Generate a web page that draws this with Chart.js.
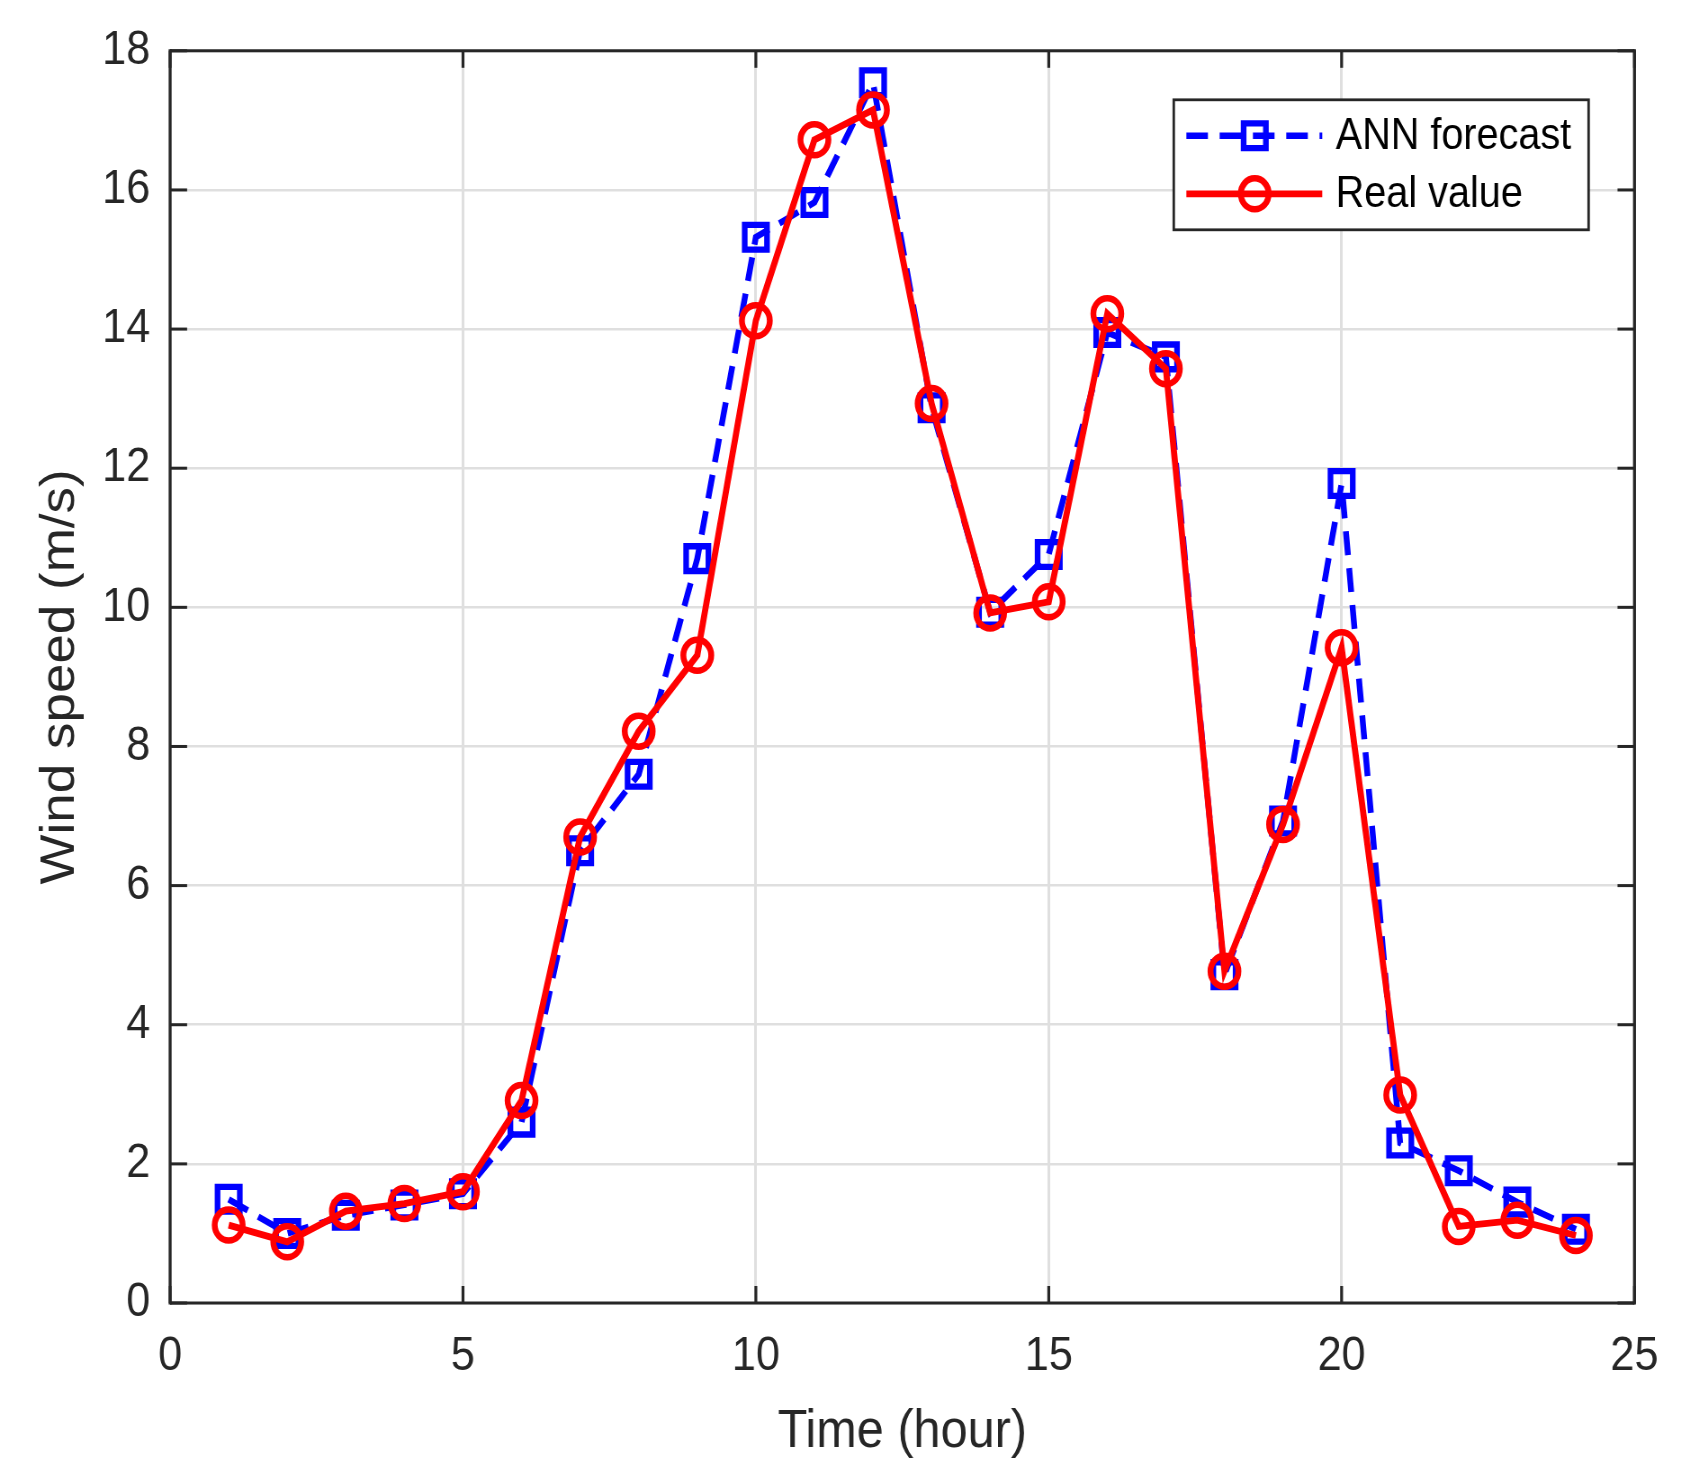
<!DOCTYPE html>
<html>
<head>
<meta charset="utf-8">
<script src="https://cdn.jsdelivr.net/npm/chart.js@4/dist/chart.umd.min.js"></script>
<style>
html,body{margin:0;padding:0;background:#fff;}
canvas{display:block;}
</style>
</head>
<body>
<canvas id="c" width="1868" height="1479" style="width:1681px;height:1479px;"></canvas>
<script>
// ---- data ----
const hours = [1,2,3,4,5,6,7,8,9,10,11,12,13,14,15,16,17,18,19,20,21,22,23,24];
const annForecast = [1.49,1.0,1.26,1.41,1.57,2.6,6.5,7.6,10.7,15.32,15.82,17.54,12.87,9.93,10.76,13.95,13.6,4.72,6.93,11.78,2.3,1.9,1.45,1.06];
const realValue = [1.12,0.88,1.32,1.43,1.6,2.91,6.7,8.22,9.31,14.12,16.72,17.15,12.93,9.92,10.08,14.22,13.43,4.77,6.88,9.42,2.99,1.1,1.19,0.97];
const seriesLabels = ['ANN forecast','Real value'];
const xTickStep = 5, yTickStep = 2;
const xMin = 0, xMax = 25, yMin = 0, yMax = 18;
const xTitle = 'Time (hour)';
const yTitle = 'Wind speed (m/s)';

const SX = 0.9; // horizontal squeeze of the displayed canvas
const FONT = '"Liberation Sans", Arimo, Helvetica, Arial, sans-serif';
const AXIS_COLOR = '#262626';

const toPts = (vals) => hours.map((h,i)=>({x:h,y:vals[i]}));

const frame = {
  id:'frame',
  afterDatasetsDraw(chart){
    const {ctx, chartArea:a, scales:{x,y}} = chart;
    ctx.save();
    ctx.strokeStyle = AXIS_COLOR;
    ctx.lineCap = 'butt';
    const tlV = 17, tlH = 17/SX;
    const seg=(x1,y1,x2,y2)=>{ctx.beginPath();ctx.moveTo(x1,y1);ctx.lineTo(x2,y2);ctx.stroke();};
    ctx.lineWidth = 3.2;
    x.ticks.forEach(t=>{
      const px = x.getPixelForValue(t.value);
      seg(px,a.bottom,px,a.bottom-tlV);
      seg(px,a.top,px,a.top+tlV);
    });
    ctx.lineWidth = 3;
    y.ticks.forEach(t=>{
      const py = y.getPixelForValue(t.value);
      seg(a.left,py,a.left+tlH,py);
      seg(a.right,py,a.right-tlH,py);
    });
    ctx.lineWidth = 3;
    seg(a.left,a.top,a.right,a.top);
    seg(a.left,a.bottom,a.right,a.bottom);
    ctx.lineWidth = 3.3;
    seg(a.left,a.top-1.5,a.left,a.bottom+1.5);
    seg(a.right,a.top-1.5,a.right,a.bottom+1.5);
    ctx.restore();
  },
  afterDraw(chart){
    // legend
    const {ctx, chartArea:a} = chart;
    const order = [0,1];
    const boxR = a.right - 51, boxL = boxR - 461;
    const boxT = a.top + 49, boxB = boxT + 130;
    ctx.save();
    ctx.fillStyle = '#fff';
    ctx.fillRect(boxL,boxT,boxR-boxL,boxB-boxT);
    ctx.strokeStyle = AXIS_COLOR;
    ctx.lineWidth = 2.8;
    ctx.strokeRect(boxL,boxT,boxR-boxL,boxB-boxT);
    const rows = [boxT+36, boxT+94];
    order.forEach((di,k)=>{
      const ds = chart.data.datasets[di];
      const cy = rows[k];
      const x1 = boxL+14, x2 = boxL+165, cx = boxL+90;
      ctx.save();
      ctx.strokeStyle = ds.borderColor;
      ctx.lineWidth = ds.borderWidth;
      ctx.setLineDash(ds.borderDash || []);
      ctx.beginPath(); ctx.moveTo(x1,cy); ctx.lineTo(x2,cy); ctx.stroke();
      ctx.restore();
      ctx.save();
      ctx.strokeStyle = ds.pointBorderColor;
      ctx.lineWidth = ds.pointBorderWidth;
      ctx.beginPath();
      if (ds.pointStyle==='rect'){
        const s = Math.SQRT1_2*ds.pointRadius;
        ctx.rect(cx-s,cy-s,2*s,2*s);
      } else {
        ctx.arc(cx,cy,ds.pointRadius,0,Math.PI*2);
      }
      ctx.stroke();
      ctx.restore();
      ctx.fillStyle = '#000';
      ctx.font = '44px ' + FONT;
      ctx.textBaseline = 'middle';
      ctx.textAlign = 'left';
      ctx.fillText(ds.label, boxL+180, cy+1);
    });
    ctx.restore();
  }
};

new Chart(document.getElementById('c'),{
  type:'line',
  data:{
    datasets:[
      {
        label:seriesLabels[0], data:toPts(annForecast), order:1,
        borderColor:'#0000ff', borderWidth:6.5, borderDash:[24,13],
        pointStyle:'rect', pointRadius:17.5, pointBorderWidth:6.3,
        pointBorderColor:'#0000ff', pointBackgroundColor:'rgba(0,0,0,0)',
        pointHoverRadius:17.5, tension:0, fill:false
      },
      {
        label:seriesLabels[1], data:toPts(realValue), order:0,
        borderColor:'#ff0000', borderWidth:6.8,
        pointStyle:'circle', pointRadius:15.5, pointBorderWidth:6.5,
        pointBorderColor:'#ff0000', pointBackgroundColor:'rgba(0,0,0,0)',
        pointHoverRadius:15.5, tension:0, fill:false
      }
    ]
  },
  options:{
    responsive:false,
    devicePixelRatio:1,
    animation:false,
    events:[],
    layout:{padding:{left:0,right:49,top:49,bottom:0}},
    plugins:{legend:{display:false},tooltip:{enabled:false}},
    scales:{
      x:{
        type:'linear', min:xMin, max:xMax,
        afterFit(s){ s.height = 176; },
        ticks:{stepSize:xTickStep, color:AXIS_COLOR, padding:25, font:{family:FONT,size:48}, maxRotation:0},
        grid:{color:'#dfdfdf', lineWidth:3, drawTicks:false},
        border:{display:false},
        title:{display:true, text:xTitle, color:AXIS_COLOR, font:{family:FONT,size:54,lineHeight:1}, padding:{top:0,bottom:20}}
      },
      y:{
        type:'linear', min:yMin, max:yMax,
        afterFit(s){ s.width = 189; },
        ticks:{stepSize:yTickStep, color:AXIS_COLOR, padding:22, font:{family:FONT,size:48}},
        grid:{color:'#dfdfdf', lineWidth:2.6, drawTicks:false},
        border:{display:false},
        title:{display:true, text:yTitle, color:AXIS_COLOR, font:{family:FONT,size:53,lineHeight:1}, padding:{top:41,bottom:0}}
      }
    }
  },
  plugins:[frame]
});
</script>
</body>
</html>
